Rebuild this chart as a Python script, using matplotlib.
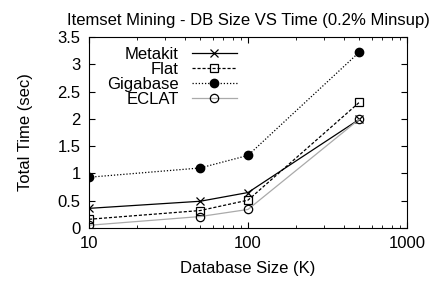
import matplotlib
matplotlib.use("Agg")
import matplotlib.pyplot as plt

plt.rcParams['font.family'] = ['Liberation Sans', 'DejaVu Sans']

# data (DB size in K, time in sec)
db_size = [10, 50, 100, 500]
metakit = [0.36, 0.49, 0.65, 1.99]
flat = [0.16, 0.32, 0.51, 2.30]
gigabase = [0.93, 1.10, 1.33, 3.22]
eclat = [0.05, 0.21, 0.34, 1.99]

fig = plt.figure(figsize=(4.35, 2.85), dpi=100)
ax = fig.add_axes([89/435, 1 - 228/285, (407-89)/435, (228-37)/285])

ax.plot(db_size, metakit, color='black', lw=0.9, marker='x', ms=6, mew=0.9, label='Metakit')
ax.plot(db_size, flat, color='black', lw=0.9, ls=(0, (2.5, 1.5)), marker='s', ms=6, mfc='none', mew=0.9, label='Flat')
ax.plot(db_size, gigabase, color='black', lw=0.9, ls=(0, (1, 1.5)), marker='o', ms=6, label='Gigabase')
ax.plot(db_size, eclat, color='#aaaaaa', lw=0.9, marker='o', ms=6, mfc='none', mec='black', mew=0.9, label='ECLAT')

ax.set_xscale('log')
ax.set_xlim(10, 1000)
ax.set_ylim(0, 3.5)
ax.set_yticks([0, 0.5, 1, 1.5, 2, 2.5, 3, 3.5])
ax.set_yticklabels(['0', '0.5', '1', '1.5', '2', '2.5', '3', '3.5'])
ax.set_xticks([10, 100, 1000])
ax.set_xticklabels(['10', '100', '1000'])
ax.tick_params(which='both', direction='in', top=True, right=True, labelsize=12)
ax.tick_params(which='major', length=4, pad=6)
ax.tick_params(which='minor', length=2)

ax.set_title('Itemset Mining - DB Size VS Time (0.2% Minsup)', fontsize=12, pad=9)
ax.set_xlabel('Database Size (K)', fontsize=12, labelpad=7)
ax.set_ylabel('Total Time (sec)', fontsize=12, labelpad=18)

ax.legend(loc='upper left', markerfirst=False, frameon=False, fontsize=12,
          handlelength=2.7, handletextpad=0.8, labelspacing=0.0,
          borderaxespad=0.2, bbox_to_anchor=(0.025, 1.0))

fig.savefig('out.png', dpi=100)
